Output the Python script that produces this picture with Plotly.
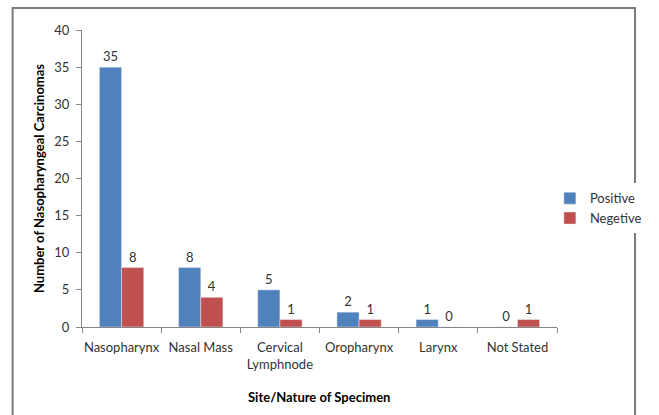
import plotly.graph_objects as go

# Specimen sites and counts of positive / negative cases
sites = ["Nasopharynx", "Nasal Mass", "Cervical<br>Lymphnode", "Oropharynx", "Larynx", "Not Stated"]
positive = [35, 8, 5, 2, 1, 0]
negative = [8, 4, 1, 1, 0, 1]

BLUE = "#4F81BD"
RED = "#C0504D"
FONT = "Lato, 'Open Sans', sans-serif"
TXT = "#333333"

fig = go.Figure()
fig.add_trace(go.Bar(
    name="Positive", x=sites, y=positive, marker_color=BLUE,
    text=[str(v) for v in positive], textposition="outside",
    textfont=dict(size=13, color=TXT, family=FONT), cliponaxis=False,
))
fig.add_trace(go.Bar(
    name="Negetive", x=sites, y=negative, marker_color=RED,
    text=[str(v) for v in negative], textposition="outside",
    textfont=dict(size=13, color=TXT, family=FONT), cliponaxis=False,
))

# outer frame around the chart
L, R, T, B = 82, 84, 30, 88
W, H = 659, 415
pw, ph = W - L - R, H - T - B
def px_x(x):
    return (x - L) / pw
def px_y(y):
    return (H - B - y) / ph

fig.add_shape(type="rect", xref="paper", yref="paper",
              x0=px_x(10), x1=px_x(656), y0=px_y(430), y1=px_y(8),
              line=dict(color="#7a7a7a", width=2), fillcolor="rgba(0,0,0,0)")

fig.add_annotation(text="<b>Site/Nature of Specimen</b>", xref="paper", yref="paper",
                   x=px_x(328), y=px_y(397), yanchor="middle", xanchor="center",
                   showarrow=False,
                   font=dict(size=13, color="#000", family=FONT))

fig.update_layout(
    width=W, height=H,
    margin=dict(l=L, r=R, t=T, b=B),
    paper_bgcolor="white", plot_bgcolor="white",
    barmode="group", bargap=0.44, bargroupgap=0,
    font=dict(family=FONT, size=13, color=TXT),
    legend=dict(x=0.985, xanchor="left", y=0.4, yanchor="middle",
                font=dict(size=13, color=TXT, family=FONT),
                itemwidth=30, tracegroupgap=4),
    showlegend=True,
)
fig.update_xaxes(
    showline=True, linecolor="#868686", linewidth=1,
    ticks="outside", tickson="boundaries", ticklen=5, tickcolor="#868686",
    tickangle=0, ticklabelstandoff=8,
    tickfont=dict(size=13, color=TXT, family=FONT),
    showgrid=False,
)
fig.update_yaxes(
    range=[0, 40], dtick=5, showline=True, linecolor="#868686", linewidth=1,
    ticks="outside", ticklen=5, tickcolor="#868686", ticklabelstandoff=4,
    tickfont=dict(size=13, color=TXT, family=FONT),
    showgrid=False, zeroline=False,
    title=dict(text="<b>Number of Nasopharyngeal Carcinomas</b>",
               font=dict(size=13, color="#000", family=FONT), standoff=6),
)

fig.write_html("out.html")
